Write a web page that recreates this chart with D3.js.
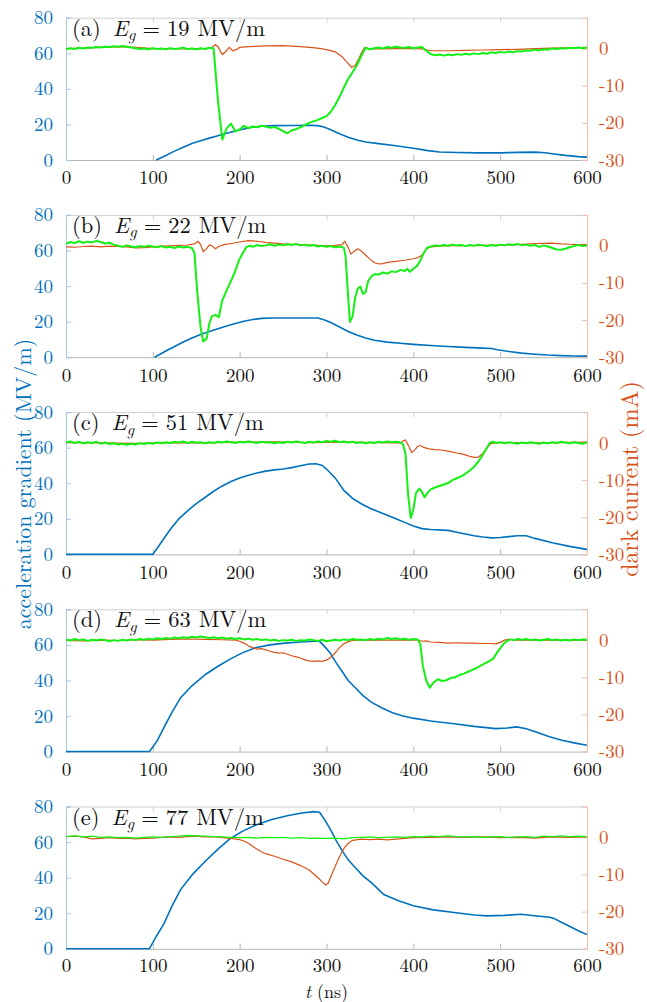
<!DOCTYPE html>
<html><head><meta charset="utf-8">
<script src="https://cdn.jsdelivr.net/npm/d3@7"></script>
<style>body{margin:0;background:#fff}svg{display:block}</style>
</head><body><svg id="c" width="647" height="1002"></svg>
<script>
// ---------------- data ----------------
const panelLabels = ["(a)", "(b)", "(c)", "(d)", "(e)"];
const panelEg = [19, 22, 51, 63, 77];
const xTicks = [0, 100, 200, 300, 400, 500, 600];
const leftTicks = [0, 20, 40, 60, 80];
const rightTicks = [-30, -20, -10, 0];
const xDomain = [0, 600];
const leftDomain = [0, 80];
const rightDomain = [-30, 8.3];

// acceleration gradient (MV/m) [t ns, value]
const blueA = [[104,0],[115,2.5],[125,5],[135,7.2],[145,9.3],[155,10.8],[165,12.3],[175,13.6],[185,15],[195,16.3],[205,17.4],[215,18.4],[225,19],[240,19.3],[260,19.4],[280,19.5],[290,19.3],[297,18.6],[305,17],[315,14.8],[325,12.8],[335,11.2],[345,10.1],[360,9.2],[380,8],[400,6.6],[415,5.4],[430,4.5],[450,4.2],[475,4.0],[500,4.0],[520,4.3],[540,4.4],[552,4.1],[562,3.4],[575,2.6],[590,1.9],[600,1.6]];
const blueB = [[102,0],[115,3.5],[125,6],[135,8.5],[145,10.8],[155,12.8],[165,14.5],[175,16],[185,17.5],[195,19],[205,20.2],[215,21.2],[225,21.8],[240,22],[260,22],[280,22],[290,22],[297,21],[305,19.5],[315,17],[325,14.5],[335,12.5],[345,10.8],[355,9.5],[370,8.5],[385,7.8],[400,7.2],[420,6.6],[440,6],[460,5.5],[480,5.1],[490,4.9],[497,4.2],[510,3.2],[525,2.3],[540,1.7],[555,1.2],[570,0.9],[585,0.7],[600,0.6]];
const blueC = [[0,0],[100,0],[110,7],[120,14],[130,20],[140,24.5],[150,28.5],[160,32],[170,35.5],[180,38.5],[190,41],[200,43],[210,44.5],[220,45.8],[230,46.8],[240,47.5],[250,48],[260,48.8],[270,49.8],[280,50.8],[288,51],[295,50],[300,48],[310,43],[320,36],[330,31.5],[340,28.5],[350,26],[360,24],[370,22],[380,20],[390,18],[400,16],[410,14.5],[420,14],[440,13.5],[450,12.5],[460,11.5],[470,10.5],[480,9.8],[490,9.3],[500,9.5],[510,10],[520,10.5],[530,10.5],[540,9],[560,6.5],[580,4.5],[600,2.8]];
const blueD = [[0,0],[96,0],[105,6],[113,13.7],[122,22],[132,30.3],[145,37],[161,43.5],[175,48],[189,52],[203,55.5],[218,58.4],[235,60],[252,61],[270,61.6],[285,62],[292,62],[298,59],[304,55.6],[311,50],[318,45],[325,40],[333,36],[342,31.5],[352,27.7],[364,24.5],[376,21.9],[388,20],[400,18.8],[420,17.2],[447,15.7],[470,14.2],[495,12.9],[508,13.3],[519,13.9],[530,12.8],[543,10.7],[556,8.5],[571,6.4],[585,4.9],[600,3.6]];
const blueE = [[0,0],[96,0],[104,7],[113,14.3],[122,24],[132,33.3],[146,42],[161,49.5],[175,56],[189,61.9],[203,66],[218,69.5],[236,72.5],[256,74.9],[272,76.3],[285,77.1],[292,76.8],[298,72.5],[304,67.6],[311,61],[318,55.2],[325,50],[333,45.7],[342,41],[352,37.1],[366,30.5],[383,27],[400,24.2],[423,21.9],[447,20.4],[470,19],[485,18.5],[505,18.8],[524,19.4],[540,18.6],[557,17.7],[562,17.1],[571,14.8],[581,12.4],[590,10.2],[600,8]];

// dark current (mA) [t ns, value]
const orangeA = [[0,0.0],[20,0.1],[40,0.3],[60,0.5],[80,0.3],[100,0.0],[120,0.0],[140,-0.1],[160,0.0],[168,0.2],[172,1.1],[175,0.5],[180,-1.6],[184,-0.8],[188,0.3],[192,-0.6],[196,-0.3],[200,0.3],[210,0.5],[230,0.7],[250,0.8],[270,0.5],[290,0.1],[300,-0.3],[310,-0.9],[318,-2.2],[324,-3.8],[329,-5.1],[333,-4.6],[337,-2.8],[341,-0.8],[344,0.3],[348,0.0],[360,-0.1],[380,0.0],[400,0.0],[410,-0.1],[420,-0.6],[440,-0.6],[460,-0.5],[480,-0.4],[500,-0.3],[520,-0.2],[540,0.0],[560,0.1],[580,0.2],[600,0.3]];
const orangeB = [[0,-0.3],[10,-0.4],[20,-0.2],[30,-0.1],[40,-0.3],[50,-0.1],[60,-0.2],[70,-0.3],[80,-0.6],[90,-0.5],[100,-0.3],[110,-0.1],[120,0.0],[130,0.1],[140,0.2],[148,0.5],[152,1.2],[155,0.3],[158,-1.6],[162,-0.8],[165,0.2],[168,0.0],[172,-0.8],[176,-0.2],[182,0.3],[190,0.6],[200,1.0],[210,1.4],[220,1.2],[230,0.9],[240,0.7],[250,0.5],[260,0.4],[270,0.3],[280,0.2],[290,0.1],[300,0.0],[310,0.1],[318,0.3],[321,1.2],[325,-0.5],[328,-2.2],[332,-1.5],[336,-0.8],[340,-1.4],[345,-2.5],[350,-3.6],[355,-4.5],[360,-4.9],[365,-4.8],[370,-4.5],[380,-4.2],[390,-3.9],[400,-3.5],[405,-3.2],[410,-2.6],[415,-0.8],[420,-0.3],[430,-0.1],[440,0.0],[460,0.0],[480,0.1],[500,0.2],[520,0.3],[540,0.6],[560,0.7],[570,0.5],[580,0.4],[590,0.3],[600,0.3]];
const orangeC = [[0,0.1],[40,0.0],[80,-0.1],[120,0.1],[160,0.0],[200,0.2],[240,0.3],[280,0.1],[320,0.2],[360,0.1],[385,0.0],[388,0.5],[391,0.8],[395,-1.0],[398,-2.6],[402,-1.8],[405,-0.9],[408,-0.7],[412,-1.2],[418,-1.6],[425,-1.8],[432,-1.9],[440,-2.2],[450,-2.7],[458,-3.1],[465,-3.6],[470,-3.9],[475,-3.8],[480,-2.8],[485,-1.2],[490,-0.1],[495,0.0],[500,0.1],[550,0.0],[600,0.2]];
const orangeD = [[0,-0.1],[20,-0.2],[40,0.0],[60,-0.1],[80,0.1],[100,0.0],[120,0.2],[140,0.3],[160,0.2],[180,0.1],[195,0.0],[200,-0.3],[205,-0.8],[210,-1.5],[215,-2.0],[220,-2.4],[225,-2.3],[230,-2.6],[235,-3.0],[240,-3.3],[245,-3.5],[250,-3.4],[255,-3.8],[260,-4.2],[265,-4.5],[270,-4.8],[275,-5.3],[280,-5.6],[285,-5.7],[290,-5.6],[295,-5.7],[300,-5.4],[305,-4.6],[310,-3.4],[315,-2.0],[320,-1.0],[325,-0.4],[330,-0.1],[360,0.0],[400,0.0],[405,0.1],[410,-0.3],[415,-0.2],[420,-0.5],[430,-0.6],[440,-0.8],[450,-0.7],[460,-0.8],[470,-0.8],[480,-0.9],[490,-0.9],[495,-1.0],[500,-0.6],[505,0.0],[510,0.2],[520,0.0],[560,0.0],[600,0.0]];
const orangeE = [[0,0.2],[10,0.3],[20,0.1],[30,-0.4],[40,-0.3],[50,-0.1],[60,-0.3],[70,-0.2],[80,-0.4],[90,-0.3],[100,-0.2],[110,0.0],[120,0.1],[130,0.0],[140,0.2],[150,0.3],[160,0.1],[170,0.2],[180,-0.1],[190,-0.3],[200,-0.6],[205,-1.0],[210,-1.6],[215,-2.4],[220,-3.2],[225,-3.9],[230,-4.4],[240,-5.1],[250,-5.9],[260,-6.6],[270,-7.6],[280,-8.8],[290,-10.8],[295,-12.0],[299,-12.8],[302,-12.3],[306,-10.0],[310,-7.8],[315,-5.2],[320,-3.0],[325,-1.6],[330,-0.8],[340,-0.5],[350,-0.6],[360,-0.5],[370,-0.7],[380,-0.5],[390,-0.3],[400,-0.1],[420,0.0],[440,0.1],[460,0.0],[480,0.1],[500,-0.1],[520,0.0],[540,-0.2],[560,0.1],[580,0.0],[600,0.1]];

// second current trace (mA) [t ns, value]
const greenA = [[0,-0.2],[5,0.1],[10,-0.1],[15,0.2],[20,0.0],[25,0.3],[30,0.2],[35,0.4],[40,0.3],[45,0.5],[50,0.4],[55,0.6],[60,0.5],[65,0.7],[70,0.5],[75,0.3],[80,0.1],[85,-0.1],[90,0.0],[95,-0.2],[100,0.1],[105,-0.1],[110,0.0],[115,-0.2],[120,0.1],[125,-0.1],[130,0.0],[135,0.2],[140,-0.1],[145,0.0],[150,-0.2],[155,0.1],[160,-0.1],[165,0.2],[170,0.0],[175,-14],[180,-24.5],[185,-21.5],[190,-20.2],[195,-22.3],[200,-21.8],[205,-20.8],[210,-21.4],[215,-21.0],[220,-21.2],[225,-20.8],[230,-21.0],[235,-21.3],[240,-21.1],[245,-21.6],[250,-22.2],[255,-22.8],[260,-22.0],[265,-21.7],[270,-21.2],[275,-20.6],[280,-20.0],[285,-19.6],[290,-19.2],[295,-18.7],[300,-18.2],[305,-17.0],[310,-15.2],[315,-13.0],[320,-10.5],[325,-8.2],[330,-6.4],[335,-4.5],[340,-2.0],[345,0.2],[350,-0.2],[355,0.1],[360,0.3],[365,0.0],[370,0.4],[375,0.2],[380,0.5],[385,0.3],[390,0.2],[395,0.4],[400,0.1],[405,0.3],[410,0.4],[415,-0.6],[420,-1.5],[425,-1.8],[430,-1.6],[435,-1.9],[440,-1.6],[445,-1.8],[450,-1.5],[455,-1.7],[460,-1.4],[465,-1.6],[470,-1.3],[475,-1.5],[480,-1.2],[485,-1.4],[490,-1.0],[495,-1.2],[500,-0.9],[505,-1.1],[510,-0.8],[515,-1.0],[520,-0.7],[525,-0.8],[530,-0.5],[535,-0.6],[540,-0.3],[545,-0.5],[550,-0.2],[555,-0.3],[560,0.0],[565,-0.1],[570,0.1],[575,0.0],[580,0.2],[585,0.1],[590,0.3],[595,0.1],[600,0.2]];
const greenB = [[0,0.5],[5,1.0],[10,0.7],[15,1.2],[20,0.8],[25,1.1],[30,0.9],[35,1.3],[40,1.0],[45,0.6],[50,0.8],[55,0.3],[60,0.0],[65,-0.3],[70,0.1],[75,-0.2],[80,-0.4],[85,-0.1],[90,-0.3],[95,0.0],[100,-0.2],[105,-0.4],[110,-0.1],[115,-0.5],[120,-0.3],[125,-0.6],[130,-0.2],[135,-0.5],[140,-0.3],[145,-0.6],[148,-2],[151,-12],[155,-22],[158,-25.8],[162,-25],[165,-21],[168,-19.0],[172,-18.6],[176,-19.2],[180,-14.7],[185,-12.0],[190,-9.5],[195,-6.8],[199,-4.0],[204,-1.8],[208,-0.3],[212,0.0],[215,-0.3],[220,0.2],[225,-0.1],[230,0.1],[235,0.4],[240,0.0],[245,0.3],[250,0.1],[255,0.4],[260,0.2],[265,0.5],[270,0.1],[275,0.3],[280,0.0],[285,0.2],[290,-0.2],[295,0.0],[300,-0.3],[305,-0.1],[310,-0.4],[315,-0.2],[320,-0.5],[322,-3],[325,-14],[327,-20.5],[330,-19],[333,-14],[336,-11.5],[339,-11.0],[342,-13],[345,-12.5],[348,-9.5],[352,-8.2],[356,-7.6],[360,-7.8],[365,-7.2],[370,-7.5],[375,-6.9],[380,-7.1],[385,-6.5],[390,-6.8],[393,-6.2],[396,-7.0],[400,-6.2],[404,-5.5],[408,-4.0],[412,-2.0],[416,-0.5],[420,-0.2],[425,0.1],[430,-0.1],[435,0.2],[440,0.0],[445,0.3],[450,0.1],[455,0.2],[460,-0.1],[465,0.2],[470,0.0],[475,0.3],[480,0.1],[485,-0.1],[490,0.2],[495,0.0],[500,0.3],[505,0.1],[510,0.4],[515,0.2],[520,0.5],[525,0.1],[530,0.3],[535,0.0],[540,0.2],[545,-0.3],[550,0.1],[555,-0.2],[560,-0.6],[565,-1.0],[570,-1.1],[575,-0.8],[580,-0.4],[585,-0.1],[590,0.2],[595,-0.1],[600,0.1]];
const greenC = [[0,0.1],[5,0.4],[10,0.0],[15,0.3],[20,-0.1],[25,0.2],[30,0.0],[35,0.3],[40,-0.2],[45,0.1],[50,-0.3],[55,-0.1],[60,-0.4],[65,-0.2],[70,-0.5],[75,-0.2],[80,-0.4],[85,-0.1],[90,-0.3],[95,0.0],[100,-0.2],[105,0.1],[110,-0.1],[115,0.2],[120,0.0],[125,0.3],[130,0.1],[135,0.4],[140,0.0],[145,0.3],[150,0.1],[155,0.2],[160,-0.1],[165,0.2],[170,0.0],[175,0.3],[180,0.1],[185,0.4],[190,0.2],[195,0.0],[200,0.3],[205,0.1],[210,0.4],[215,0.2],[220,0.0],[225,0.3],[230,0.1],[235,0.2],[240,-0.1],[245,0.2],[250,0.0],[255,0.3],[260,0.1],[265,0.4],[270,0.2],[275,0.0],[280,0.3],[285,0.1],[290,0.4],[295,0.2],[300,0.5],[305,0.3],[310,0.6],[315,0.2],[320,0.4],[325,0.1],[330,0.3],[335,0.0],[340,0.2],[345,-0.1],[350,0.2],[355,0.0],[360,0.3],[365,0.1],[370,0.4],[375,0.2],[380,0.3],[385,0.1],[388,-0.3],[391,-3],[394,-14],[397,-20.2],[400,-18],[403,-13.5],[407,-12.3],[410,-13.2],[413,-14.6],[416,-13.5],[420,-12.5],[425,-12.0],[430,-11.6],[435,-11.2],[440,-10.8],[445,-10.0],[450,-9.5],[455,-9.0],[460,-8.3],[465,-7.4],[470,-6.4],[475,-5.0],[480,-3.2],[485,-1.2],[488,0.0],[492,0.3],[496,0.0],[500,0.2],[505,-0.1],[510,0.2],[515,0.0],[520,-0.2],[525,0.1],[530,-0.1],[535,0.2],[540,0.0],[545,-0.2],[550,0.1],[555,-0.1],[560,0.2],[565,0.0],[570,0.3],[575,0.1],[580,-0.1],[585,0.2],[590,0.0],[595,-0.2],[600,0.1]];
const greenD = [[0,0.2],[5,-0.1],[10,0.3],[15,0.0],[20,0.2],[25,-0.2],[30,0.1],[35,-0.1],[40,0.2],[45,0.0],[50,-0.3],[55,0.0],[60,-0.2],[65,0.1],[70,-0.1],[75,0.2],[80,0.0],[85,0.3],[90,0.1],[95,0.4],[100,0.2],[105,0.5],[110,0.3],[115,0.6],[120,0.4],[125,0.7],[130,0.5],[135,0.8],[140,0.6],[145,0.9],[150,0.7],[155,1.0],[160,0.8],[165,0.6],[170,0.8],[175,0.5],[180,0.7],[185,0.4],[190,0.6],[195,0.3],[200,0.5],[205,0.2],[210,0.4],[215,0.1],[220,0.3],[225,0.0],[230,0.2],[235,-0.1],[240,0.1],[245,-0.2],[250,0.0],[255,-0.1],[260,0.1],[265,-0.2],[270,0.0],[275,-0.1],[280,0.2],[285,0.0],[290,-0.2],[295,0.1],[300,-0.3],[305,-0.1],[310,0.1],[315,-0.1],[320,0.2],[325,0.0],[330,0.3],[335,0.1],[340,0.2],[345,0.0],[350,0.3],[355,0.1],[360,0.4],[365,0.2],[370,0.6],[375,0.3],[380,0.5],[385,0.2],[390,0.4],[395,0.1],[400,0.3],[405,0.2],[408,-1],[411,-7],[415,-11],[419,-12.8],[423,-11.5],[428,-10.5],[433,-11.0],[438,-10.8],[443,-10.2],[448,-10.0],[453,-9.4],[458,-9.0],[463,-8.5],[468,-8.0],[473,-7.5],[478,-6.8],[483,-6.2],[488,-5.6],[492,-5.0],[496,-3.5],[500,-2.2],[504,-1.0],[508,-0.2],[512,0.2],[516,0.0],[520,0.3],[525,0.1],[530,0.3],[535,0.0],[540,0.2],[545,-0.1],[550,0.1],[555,0.3],[560,0.0],[565,0.2],[570,-0.1],[575,0.1],[580,-0.1],[585,0.2],[590,0.0],[595,0.2],[600,0.1]];
const greenE = [[0,0.2],[10,0.4],[20,0.1],[30,0.3],[40,0.0],[50,0.1],[60,-0.1],[70,0.0],[80,-0.2],[90,0.0],[100,0.1],[110,0.0],[120,0.2],[130,0.3],[140,0.5],[150,0.4],[160,0.3],[170,0.2],[180,0.1],[190,0.0],[200,-0.1],[210,0.0],[220,-0.2],[230,0.0],[240,-0.1],[250,0.0],[260,-0.2],[270,-0.1],[280,-0.3],[290,-0.2],[300,-0.3],[310,-0.2],[320,-0.4],[330,-0.1],[340,0.0],[350,0.1],[360,-0.1],[370,0.0],[380,0.1],[390,0.0],[400,0.2],[410,0.1],[420,0.3],[430,0.2],[440,0.4],[450,0.2],[460,0.1],[470,0.2],[480,0.0],[490,0.1],[500,0.2],[510,0.0],[520,0.1],[530,0.2],[540,0.0],[550,0.3],[560,0.2],[570,0.4],[580,0.2],[590,0.3],[600,0.2]];

const blueSeries = [blueA, blueB, blueC, blueD, blueE];
const orangeSeries = [orangeA, orangeB, orangeC, orangeD, orangeE];
const greenSeries = [greenA, greenB, greenC, greenD, greenE];

// ---------------- layout ----------------
const FONT = '"Latin Modern Roman", "Liberation Serif", serif';
const BLUE = "#0072BD", ORANGE = "#D95319", GREEN = "#14f014";
const plotL = 66, plotR = 587, top0 = 17.7, step = 197.2, plotH = 142.3;
const svg = d3.select("#c");
const x = d3.scaleLinear().domain(xDomain).range([plotL, plotR]);

function styleText(sel, size, fill) {
  sel.style("font-family", FONT).style("font-size", size + "px").attr("fill", fill);
}

panelLabels.forEach((lab, i) => {
  const top = top0 + i * step, bot = top + plotH;
  const yL = d3.scaleLinear().domain(leftDomain).range([bot, top]);
  const yR = d3.scaleLinear().domain(rightDomain).range([bot, top]);
  const g = svg.append("g");

  const axTop = d3.axisTop(x).tickValues(xTicks).tickSize(-5).tickFormat("");
  g.append("g").attr("transform", `translate(0,${top})`).call(axTop)
    .call(s => s.selectAll("line,path").attr("stroke", "#cfcfcf"));
  const axBot = d3.axisBottom(x).tickValues(xTicks).tickSize(-5).tickPadding(i === 4 ? 9.5 : 11).tickFormat(d3.format("d"));
  g.append("g").attr("transform", `translate(0,${bot})`).call(axBot)
    .call(s => s.selectAll("line,path").attr("stroke", "#b4b4b4"))
    .call(s => styleText(s.selectAll("text"), 19, "#111"));

  const axL = d3.axisLeft(yL).tickValues(leftTicks).tickSize(-5).tickPadding(13).tickFormat(d3.format("d"));
  g.append("g").attr("transform", `translate(${plotL},0)`).call(axL)
    .call(s => s.selectAll("line,path").attr("stroke", "#a8c8e6"))
    .call(s => styleText(s.selectAll("text"), 19, BLUE));
  const axR = d3.axisRight(yR).tickValues(rightTicks).tickSize(-5).tickPadding(12).tickFormat(d => String(d));
  g.append("g").attr("transform", `translate(${plotR},0)`).call(axR)
    .call(s => s.selectAll("line,path").attr("stroke", "#f2bfa9"))
    .call(s => styleText(s.selectAll("text"), 19, ORANGE));

  const clipId = "clip" + i;
  svg.append("clipPath").attr("id", clipId).append("rect")
    .attr("x", plotL).attr("y", top - 1).attr("width", plotR - plotL).attr("height", plotH + 2);

  const lineL = d3.line().x(d => x(d[0])).y(d => yL(d[1]));
  const lineR = d3.line().x(d => x(d[0])).y(d => yR(d[1]));
  const plotG = g.append("g").attr("clip-path", `url(#${clipId})`);
  plotG.append("path").datum(blueSeries[i]).attr("d", lineL)
    .attr("fill", "none").attr("stroke", BLUE).attr("stroke-width", 1.6);
  plotG.append("path").datum(orangeSeries[i]).attr("d", lineR)
    .attr("fill", "none").attr("stroke", ORANGE).attr("stroke-width", 1.2);
  plotG.append("path").datum(greenSeries[i]).attr("d", lineR)
    .attr("fill", "none").attr("stroke", GREEN).attr("stroke-width", i === 4 ? 1.3 : 2.0)
    .attr("stroke-linejoin", "round");

  // panel label
  const t = g.append("text").attr("x", plotL + 6).attr("y", top + 18);
  styleText(t, 22.5, "#111");
  t.append("tspan").text(lab);
  t.append("tspan").attr("dx", 12).style("font-style", "italic").text("E");
  t.append("tspan").style("font-style", "italic").style("font-size", "16px").attr("dy", 4.5).text("g");
  t.append("tspan").attr("dy", -4.5).attr("dx", 7).text("=");
  t.append("tspan").attr("dx", 7).text(panelEg[i]);
  t.append("tspan").attr("dx", 8).text("MV/m");
});

// axis titles
const yt1 = svg.append("text").attr("transform", "translate(31,484) rotate(-90)").attr("text-anchor", "middle")
  .text("acceleration gradient (MV/m)");
styleText(yt1, 22, BLUE);
const yt2 = svg.append("text").attr("transform", "translate(638,479) rotate(-90)").attr("text-anchor", "middle")
  .text("dark current (mA)");
styleText(yt2, 24, ORANGE);
const xt = svg.append("text").attr("x", (plotL + plotR) / 2).attr("y", 997.5).attr("text-anchor", "middle");
styleText(xt, 18, "#111");
xt.append("tspan").style("font-style", "italic").text("t");
xt.append("tspan").attr("dx", 6).text("(ns)");
</script></body></html>
